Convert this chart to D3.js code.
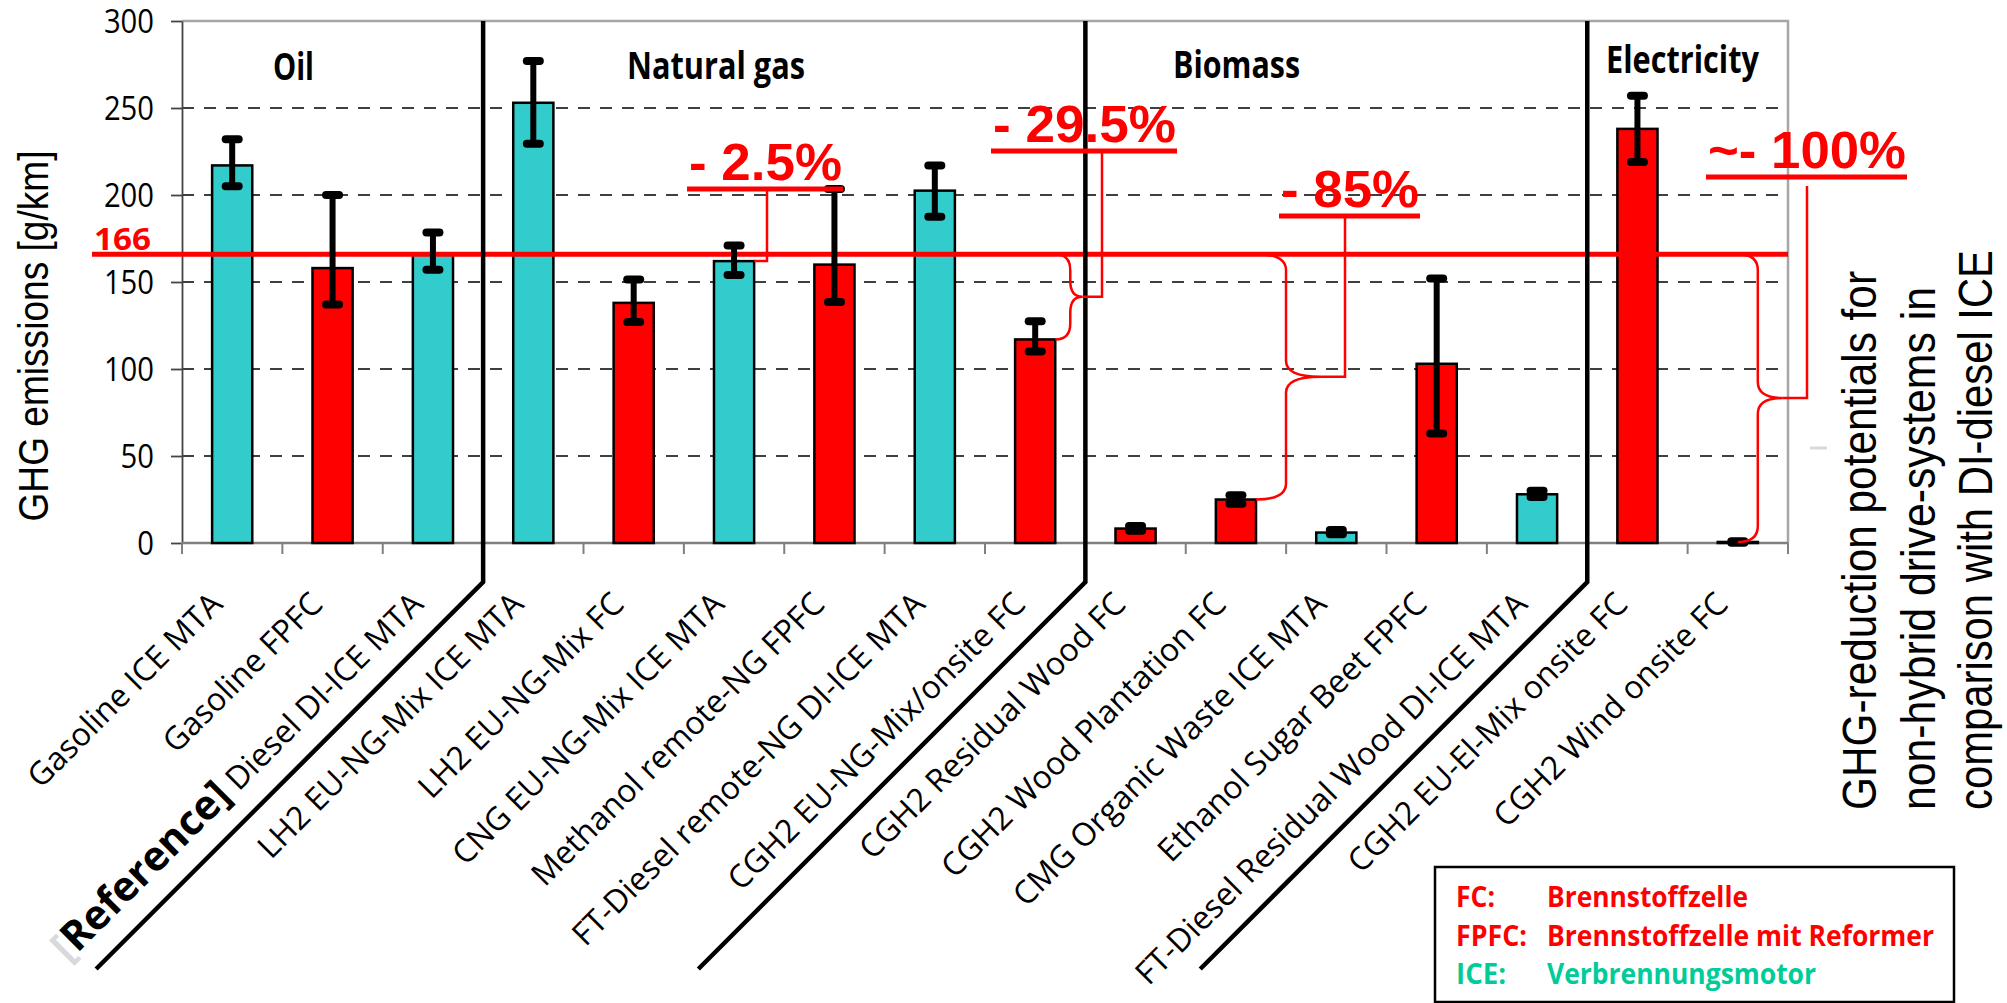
<!DOCTYPE html>
<html>
<head>
<meta charset="utf-8">
<script src="https://cdn.jsdelivr.net/npm/d3@7"></script>
<style>
  html, body { margin: 0; padding: 0; background: #fff; }
  svg { display: block; }
</style>
</head>
<body>
<svg id="chart" width="2007" height="1003"></svg>
<script>
// ---- data ----
const categories = [
  "Gasoline ICE MTA", "Gasoline FPFC", "Diesel DI-ICE MTA",
  "LH2 EU-NG-Mix ICE MTA", "LH2 EU-NG-Mix FC", "CNG EU-NG-Mix ICE MTA",
  "Methanol remote-NG FPFC", "FT-Diesel remote-NG DI-ICE MTA", "CGH2 EU-NG-Mix/onsite FC",
  "CGH2 Residual Wood FC", "CGH2 Wood Plantation FC", "CMG Organic Waste ICE MTA",
  "Ethanol Sugar Beet FPFC", "FT-Diesel Residual Wood DI-ICE MTA",
  "CGH2 EU-El-Mix onsite FC", "CGH2 Wind onsite FC"
];
const emissions = [217, 158, 166, 253, 138, 162, 160, 202.5, 117, 8.3, 25, 6, 103, 28, 238, 0.6];
const errLow    = [205, 137, 157, 229.5, 127, 154, 138.5, 187.5, 110, 7, 22.5, 5, 63, 26.5, 219, 0.2];
const errHigh   = [232, 200, 178.5, 277, 151.5, 171, 203.5, 217, 127.5, 9.8, 27.5, 7.5, 152, 30, 257, 1.0];
const drives = ["ICE", "FPFC", "ICE", "ICE", "FC", "ICE", "FPFC", "ICE", "FC",
                "FC", "FC", "ICE", "FPFC", "ICE", "FC", "FC"];
const groups = ["Oil", "Natural gas", "Biomass", "Electricity"];
const groupSizes = [3, 6, 5, 2];
const yTicks = [0, 50, 100, 150, 200, 250, 300];
const referenceValue = 166;
const reductionLabels = ["- 2.5%", "- 29.5%", "- 85%", "~- 100%"];
const reductionTargets = [5, 8, 10, 15];
const legendKeys = ["FC:", "FPFC:", "ICE:"];
const legendTexts = ["Brennstoffzelle", "Brennstoffzelle mit Reformer", "Verbrennungsmotor"];
const yTitle = "GHG emissions [g/km]";
const sideTitle = ["GHG-reduction potentials for", "non-hybrid drive-systems in", "comparison with DI-diesel ICE"];

// ---- layout ----
const RED = "#FF0000", CYAN = "#33CCCC", GREEN = "#00CC99";
const driveColor = { ICE: CYAN, FC: RED, FPFC: RED };
const plot = { left: 182, right: 1788, top: 21, bottom: 543 };
const SANS = "'Open Sans', 'Noto Sans', sans-serif";
const ARIAL = "'Liberation Sans', Arial, sans-serif";

const svg = d3.select("#chart");

const x = d3.scaleBand().domain(categories)
  .range([plot.left, plot.right]).paddingInner(0.6).paddingOuter(0.3);
const y = d3.scaleLinear().domain([0, 300]).range([plot.bottom, plot.top]);
const step = x.step();
const boundary = i => plot.left + i * step;
const cx = i => x(categories[i]) + x.bandwidth() / 2;

// dashed grid
svg.append("g").selectAll("line")
  .data(yTicks.filter(v => v > 0 && v < 300)).join("line")
  .attr("x1", plot.left).attr("x2", plot.right)
  .attr("y1", d => y(d)).attr("y2", d => y(d))
  .attr("stroke", "#000").attr("stroke-width", 1.3)
  .attr("stroke-dasharray", "12,10");

// top and right frame
svg.append("path")
  .attr("d", `M${plot.left},${y(300)}H${plot.right}V${y(0)}`)
  .attr("fill", "none").attr("stroke", "#A6A6A6").attr("stroke-width", 2.5);

// y axis
const yAxis = svg.append("g")
  .attr("transform", `translate(${plot.left},0)`)
  .call(d3.axisLeft(y).tickValues(yTicks).tickSize(11).tickSizeOuter(0).tickFormat(d3.format("d")));
yAxis.select(".domain").attr("stroke", "#444").attr("stroke-width", 1.8);
yAxis.selectAll(".tick line").attr("stroke", "#444").attr("stroke-width", 1.8);
yAxis.selectAll(".tick text")
  .attr("x", -28).attr("dy", null).attr("y", 11.5)
  .attr("font-family", SANS).attr("font-size", 32).attr("fill", "#000")
  .attr("textLength", d => String(d).length * 16.7)
  .attr("lengthAdjust", "spacingAndGlyphs");

// x axis line and boundary ticks
svg.append("line")
  .attr("x1", plot.left).attr("x2", plot.right)
  .attr("y1", y(0)).attr("y2", y(0))
  .attr("stroke", "#808080").attr("stroke-width", 2.5);
svg.append("g").selectAll("line")
  .data(d3.range(categories.length + 1)).join("line")
  .attr("x1", d => boundary(d)).attr("x2", d => boundary(d))
  .attr("y1", y(0)).attr("y2", y(0) + 11)
  .attr("stroke", "#808080").attr("stroke-width", 2);

// bars
svg.append("g").selectAll("rect")
  .data(categories).join("rect")
  .attr("x", d => x(d)).attr("width", x.bandwidth())
  .attr("y", (d, i) => y(emissions[i]))
  .attr("height", (d, i) => y(0) - y(emissions[i]))
  .attr("fill", (d, i) => driveColor[drives[i]])
  .attr("stroke", "#000").attr("stroke-width", 2.5);

// reference level (diesel DI-ICE)
svg.append("line")
  .attr("x1", 92).attr("x2", plot.right)
  .attr("y1", y(referenceValue)).attr("y2", y(referenceValue))
  .attr("stroke", RED).attr("stroke-width", 5);
svg.append("text")
  .attr("x", 94).attr("y", y(referenceValue) - 4)
  .attr("font-family", SANS).attr("font-weight", 700).attr("font-size", 30)
  .attr("fill", RED).attr("textLength", 57).attr("lengthAdjust", "spacingAndGlyphs")
  .text(referenceValue);

// error bars
const eb = svg.append("g").selectAll("g").data(categories).join("g");
eb.append("line")
  .attr("x1", (d, i) => cx(i)).attr("x2", (d, i) => cx(i))
  .attr("y1", (d, i) => y(errLow[i])).attr("y2", (d, i) => y(errHigh[i]))
  .attr("stroke", "#000").attr("stroke-width", 6);
["lo", "hi"].forEach(k => {
  eb.append("line")
    .attr("x1", (d, i) => cx(i) - 6.5).attr("x2", (d, i) => cx(i) + 6.5)
    .attr("y1", (d, i) => y(k === "lo" ? errLow[i] : errHigh[i]))
    .attr("y2", (d, i) => y(k === "lo" ? errLow[i] : errHigh[i]))
    .attr("stroke", "#000").attr("stroke-width", 8).attr("stroke-linecap", "round");
});

// group separators
const groupStarts = groupSizes.map((s, i) => d3.sum(groupSizes.slice(0, i)));
svg.append("g").selectAll("path")
  .data(groupStarts.slice(1)).join("path")
  .attr("d", d => {
    const bx = boundary(d);
    return `M${bx},${plot.top}V582L${bx - 387},969`;
  })
  .attr("fill", "none").attr("stroke", "#000").attr("stroke-width", 4.5);

// group titles
const titleX = [273, 627, 1173, 1606];
const titleY = [80, 79, 78, 73];
const titleLen = [41, 178, 127, 153];
svg.append("g").selectAll("text")
  .data(groups).join("text")
  .attr("x", (d, i) => titleX[i]).attr("y", (d, i) => titleY[i])
  .attr("font-family", SANS).attr("font-weight", 700).attr("font-size", 37)
  .attr("textLength", (d, i) => titleLen[i]).attr("lengthAdjust", "spacingAndGlyphs")
  .text(d => d);

// category labels
const labels = svg.append("g").selectAll("text")
  .data(categories).join("text")
  .attr("transform", (d, i) => `translate(${cx(i) - 8},606) rotate(-45)`)
  .attr("text-anchor", "end")
  .attr("font-family", SANS).attr("font-size", 32).attr("fill", "#000");
labels.each(function (d, i) {
  const t = d3.select(this);
  if (i === 2) {
    t.append("tspan").attr("font-weight", 700).attr("font-size", 41).attr("fill", "#D9D9D9").text("[");
    t.append("tspan").attr("font-weight", 700).attr("font-size", 41).text("Reference]");
    t.append("tspan").text(" " + d);
  } else {
    t.text(d);
  }
});

// reduction annotations
const annot = [
  { tx: 689,  ty: 180, len: 153, cxl: 767 },
  { tx: 993,  ty: 142, len: 183, cxl: 1102, from: "edge",   spine: 15, tip: 27 },
  { tx: 1281, ty: 207, len: 138, cxl: 1345, from: "edge",   spine: 30, tip: 64 },
  { tx: 1708, ty: 168, len: 198, cxl: 1807, from: "center", spine: 20, tip: 45, gap: 7 }
];
const ag = svg.append("g");
reductionLabels.forEach((lab, k) => {
  const a = annot[k];
  const i = reductionTargets[k];
  ag.append("text")
    .attr("x", a.tx).attr("y", a.ty)
    .attr("font-family", ARIAL).attr("font-weight", 700).attr("font-size", 52)
    .attr("fill", RED).attr("textLength", a.len).attr("lengthAdjust", "spacingAndGlyphs")
    .text(lab);
  const uy = a.ty + 9;
  ag.append("line")
    .attr("x1", a.tx - 2).attr("x2", a.tx + a.len + 1)
    .attr("y1", uy).attr("y2", uy)
    .attr("stroke", RED).attr("stroke-width", 5);

  const y0 = y(referenceValue), y1 = y(emissions[i]);
  const ym = (y0 + y1) / 2;
  if (!a.from) {
    // simple bracket to the bar top
    ag.append("path")
      .attr("d", `M${a.cxl},${uy + 2}V${y1}H${x(categories[i]) + x.bandwidth()}`)
      .attr("fill", "none").attr("stroke", RED).attr("stroke-width", 2.5);
    return;
  }
  const x0 = a.from === "edge" ? x(categories[i]) + x.bandwidth() : cx(i);
  const sp = x0 + a.spine, tp = x0 + a.tip;
  const r = Math.min(16, (y1 - y0) / 4);
  ag.append("path")
    .attr("d", `M${x0},${y0}Q${sp},${y0} ${sp},${y0 + r}V${ym - r}` +
               `Q${sp},${ym} ${tp},${ym}Q${sp},${ym} ${sp},${ym + r}` +
               `V${y1 - r}Q${sp},${y1} ${x0},${y1}`)
    .attr("fill", "none").attr("stroke", RED).attr("stroke-width", 2.5);
  ag.append("path")
    .attr("d", `M${a.cxl},${uy + 2 + (a.gap || 0)}V${ym}H${tp}`)
    .attr("fill", "none").attr("stroke", RED).attr("stroke-width", 2.5);
});

// y axis title
svg.append("text")
  .attr("transform", "translate(48,336) rotate(-90)")
  .attr("text-anchor", "middle")
  .attr("font-family", ARIAL).attr("font-size", 43)
  .attr("textLength", 371).attr("lengthAdjust", "spacingAndGlyphs")
  .text(yTitle);

// right-hand title
const sideX = [1876, 1935, 1992];
const sideLen = [539, 523, 560];
svg.append("g").selectAll("text")
  .data(sideTitle).join("text")
  .attr("transform", (d, i) => `translate(${sideX[i]},810) rotate(-90)`)
  .attr("font-family", ARIAL).attr("font-size", 48)
  .attr("textLength", (d, i) => sideLen[i]).attr("lengthAdjust", "spacingAndGlyphs")
  .text(d => d);

// small grey tick beside the plot frame
svg.append("line")
  .attr("x1", 1810).attr("x2", 1827).attr("y1", 448).attr("y2", 448)
  .attr("stroke", "#D9D9D9").attr("stroke-width", 3);

// legend
const lg = svg.append("g");
lg.append("rect")
  .attr("x", 1435).attr("y", 867).attr("width", 519).attr("height", 135)
  .attr("fill", "#fff").attr("stroke", "#000").attr("stroke-width", 2.5);
const legendColor = [RED, RED, GREEN];
const legendBase = [907, 946, 984];
const keyLen = [39, 71, 50];
const textLen = [201, 387, 269];
legendKeys.forEach((k, i) => {
  lg.append("text")
    .attr("x", 1456).attr("y", legendBase[i])
    .attr("font-family", SANS).attr("font-weight", 700).attr("font-size", 28)
    .attr("fill", legendColor[i])
    .attr("textLength", keyLen[i]).attr("lengthAdjust", "spacingAndGlyphs")
    .text(k);
  lg.append("text")
    .attr("x", 1547).attr("y", legendBase[i])
    .attr("font-family", SANS).attr("font-weight", 700).attr("font-size", 28)
    .attr("fill", legendColor[i])
    .attr("textLength", textLen[i]).attr("lengthAdjust", "spacingAndGlyphs")
    .text(legendTexts[i]);
});
</script>
</body>
</html>
